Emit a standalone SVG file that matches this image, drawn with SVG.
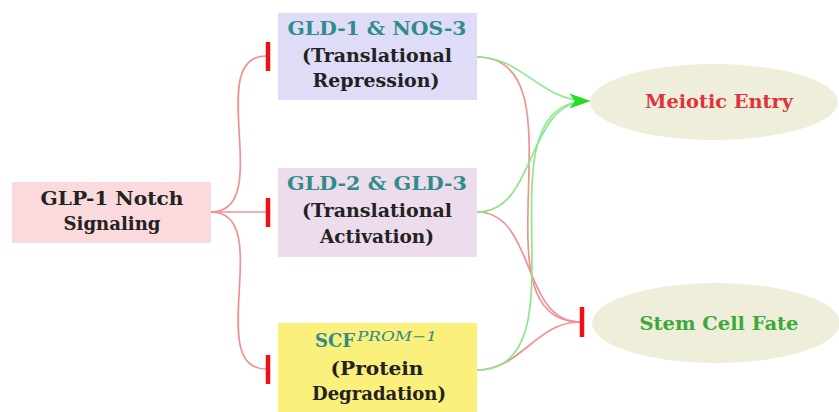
<svg xmlns="http://www.w3.org/2000/svg" width="839" height="412" viewBox="0 0 839 412">
<defs>
<style>
.t{font-family:"DejaVu Serif","Liberation Serif",serif;font-weight:bold;font-size:19px;text-anchor:middle}
.title{fill:#2f8c8a}
.body{fill:#222}
.red{fill:none;stroke:#f39090;stroke-width:1.7}
.grn{fill:none;stroke:#8ce88c;stroke-width:1.7}
.bar{stroke:#ee1111;stroke-width:4.5}
</style>
<marker id="arr" viewBox="0 0 20 14" refX="18" refY="7" markerWidth="20" markerHeight="14" markerUnits="userSpaceOnUse" orient="auto">
<path d="M0,0 L20,7 L0,14 L5,7 Z" fill="#22e022"/>
</marker>
</defs>
<rect width="839" height="412" fill="#fff"/>
<g id="connectors">
<path class="red" d="M211,212 C276,212 203,56 266,56"/>
<path class="red" d="M211,212 L266,212"/>
<path class="red" d="M211,212 C276,212 203,369 266,369"/>
<line class="bar" x1="268" y1="42" x2="268" y2="71"/>
<line class="bar" x1="268" y1="198" x2="268" y2="227"/>
<line class="bar" x1="268" y1="355" x2="268" y2="384"/>
<path class="red" d="M477,57 C588,57 469,322 580,322"/>
<path class="red" d="M477,212 C536,212 521,322 580,322"/>
<path class="red" d="M477,370 C521,370 536,322 580,322"/>
<path class="grn" d="M477,57 C523,57 540,101 588,101" marker-end="url(#arr)"/>
<path class="grn" d="M477,212 C538,212 525,101 588,101" marker-end="url(#arr)"/>
<path class="grn" d="M477,370 C591,370 472,101 588,101" marker-end="url(#arr)"/>
<line class="bar" x1="582" y1="307" x2="582" y2="337"/>
</g>
<g id="glp1">
<rect x="12" y="182" width="199" height="61" fill="#fadadd"/>
<text class="t body" x="112" y="205" textLength="143" lengthAdjust="spacingAndGlyphs">GLP-1 Notch</text>
<text class="t body" x="112" y="230" textLength="97" lengthAdjust="spacingAndGlyphs">Signaling</text>
</g>
<g id="gld1">
<rect x="278" y="13" width="199" height="87" fill="#dedcf6"/>
<text class="t title" x="377" y="35" textLength="179" lengthAdjust="spacingAndGlyphs">GLD-1 &amp; NOS-3</text>
<text class="t body" x="377" y="62" textLength="150" lengthAdjust="spacingAndGlyphs">(Translational</text>
<text class="t body" x="376" y="87" textLength="127" lengthAdjust="spacingAndGlyphs">Repression)</text>
</g>
<g id="gld2">
<rect x="278" y="168" width="199" height="89" fill="#ecdcec"/>
<text class="t title" x="377" y="190" textLength="180" lengthAdjust="spacingAndGlyphs">GLD-2 &amp; GLD-3</text>
<text class="t body" x="377" y="217" textLength="150" lengthAdjust="spacingAndGlyphs">(Translational</text>
<text class="t body" x="377" y="243" textLength="114" lengthAdjust="spacingAndGlyphs">Activation)</text>
</g>
<g id="scf">
<rect x="278" y="323" width="199" height="89" fill="#fbf07c"/>
<text class="t title" x="335" y="347" textLength="40" lengthAdjust="spacingAndGlyphs">SCF</text>
<text x="397" y="341" font-family="DejaVu Serif,Liberation Serif,serif" font-style="italic" font-size="13" fill="#2f8c8a" text-anchor="middle" textLength="80" lengthAdjust="spacingAndGlyphs">PROM−1</text>
<text class="t body" x="377" y="375" textLength="93" lengthAdjust="spacingAndGlyphs">(Protein</text>
<text class="t body" x="379" y="400" textLength="134" lengthAdjust="spacingAndGlyphs">Degradation)</text>
</g>
<g id="meiotic">
<ellipse cx="714" cy="102" rx="124" ry="38" fill="#eeeedb"/>
<text class="t" x="719" y="108" fill="#e0323c" textLength="148" lengthAdjust="spacingAndGlyphs">Meiotic Entry</text>
</g>
<g id="stem">
<ellipse cx="716" cy="323" rx="124" ry="40" fill="#eeeedb"/>
<text class="t" x="719" y="330" fill="#3aaa3a" textLength="159" lengthAdjust="spacingAndGlyphs">Stem Cell Fate</text>
</g>
</svg>
